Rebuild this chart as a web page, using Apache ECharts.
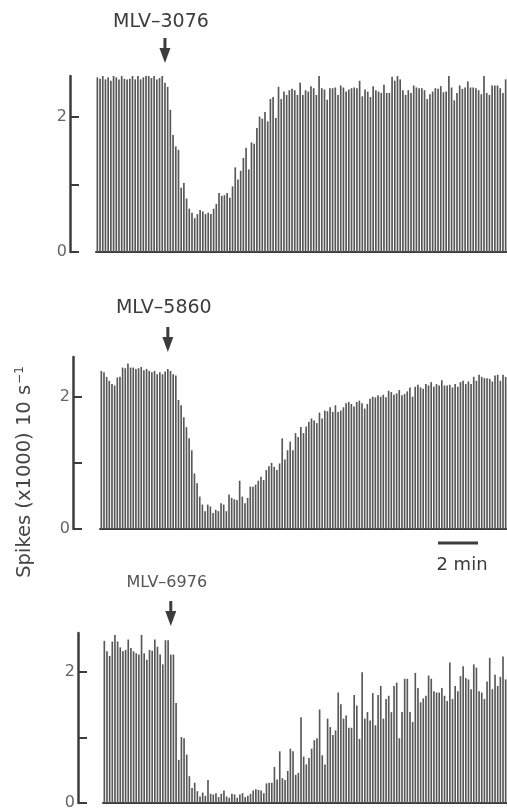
<!DOCTYPE html>
<html>
<head>
<meta charset="utf-8">
<script src="https://cdn.jsdelivr.net/npm/echarts@6/dist/echarts.min.js"></script>
<style>
html,body{margin:0;padding:0;background:#fff;}
#c{width:507px;height:811px;}
</style>
</head>
<body>
<div id="c"></div>
<script>
// Spike counts (x1000 per 10 s bin)
const drugNames = ['MLV\u20133076', 'MLV\u20135860', 'MLV\u20136976'];
const injectionIndex = [25, 25, 25];
const yTickValues = [0, 1, 2];
const yTickLabels = [0, 2];
const scaleBarLabel = '2 min';
const yAxisTitle = 'Spikes (x1000) 10 s';

const panel1 = [
  2.58,2.56,2.65,2.55,2.58,2.53,2.62,2.58,2.55,2.62,2.56,2.55,2.56,2.62,2.55,2.6,2.55,2.58,2.6,2.63,2.57,2.6,2.55,2.57,2.61,
  2.5,2.44,2.1,1.73,1.56,1.51,0.95,1.02,0.79,0.64,0.58,0.5,0.56,0.62,0.6,0.56,0.58,0.56,0.64,0.71,0.87,0.83,0.84,0.87,0.8,
  0.97,1.25,1.07,1.2,1.39,1.54,1.22,1.62,1.6,1.83,2.0,1.97,2.07,1.93,2.26,2.29,1.98,2.44,2.26,
  2.37,2.32,2.39,2.41,2.39,2.32,2.5,2.32,2.39,2.37,2.45,2.42,2.32,2.6,2.42,2.4,2.25,2.42,2.42,2.43,
  2.32,2.46,2.43,2.37,2.4,2.42,2.43,2.42,2.53,2.3,2.4,2.37,2.29,2.45,2.39,2.37,2.35,2.47,2.35,2.35,
  2.59,2.53,2.64,2.55,2.39,2.32,2.39,2.35,2.46,2.43,2.42,2.42,2.39,2.26,2.33,2.37,2.42,2.41,2.45,2.36,
  2.37,2.67,2.43,2.24,2.35,2.46,2.41,2.43,2.52,2.43,2.43,2.42,2.39,2.33,2.61,2.35,2.32,2.46,2.46,2.46,
  2.42,2.35,2.55
];
const panel2 = [
  2.39,2.37,2.3,2.24,2.19,2.17,2.29,2.3,2.44,2.43,2.5,2.44,2.44,2.42,2.43,2.45,2.4,2.42,2.39,2.37,
  2.39,2.34,2.37,2.34,2.38,2.42,2.39,2.34,2.32,
  1.95,1.87,1.69,1.54,1.37,1.19,0.84,0.69,0.49,0.37,
  0.27,0.37,0.34,0.24,0.29,0.27,0.39,0.37,0.27,0.52,
  0.47,0.45,0.44,0.73,0.49,0.39,0.47,0.64,0.64,0.67,
  0.73,0.79,0.74,0.89,0.95,1.0,0.94,0.89,0.99,1.37,
  1.05,1.19,1.32,1.19,1.45,1.39,1.54,1.45,1.55,1.62,
  1.67,1.64,1.6,1.76,1.67,1.79,1.78,1.84,1.77,1.87,
  1.77,1.79,1.84,1.9,1.92,1.89,1.85,1.92,1.94,1.9,
  1.82,1.89,1.97,2.0,1.99,2.02,2.0,2.03,1.99,2.09,
  2.07,2.03,2.05,2.1,2.02,2.04,2.08,2.14,2.0,2.15,
  2.18,2.14,2.12,2.19,2.17,2.22,2.15,2.19,2.17,2.25,
  2.17,2.17,2.18,2.14,2.19,2.15,2.22,2.24,2.19,2.23,
  2.19,2.3,2.24,2.33,2.3,2.28,2.28,2.27,2.23,2.32,
  2.33,2.24,2.33,2.3
];
const panel3 = [
  2.48,2.32,2.25,2.47,2.57,2.47,2.38,2.32,2.34,2.5,2.37,2.32,2.29,2.27,2.57,2.29,2.19,2.34,2.33,2.5,
  2.39,2.27,2.12,2.49,2.49,2.27,2.27,
  1.53,0.66,1.01,0.99,0.74,0.41,0.23,0.31,0.18,0.1,
  0.16,0.11,0.35,0.14,0.13,0.15,0.09,0.14,0.19,0.1,
  0.08,0.14,0.13,0.08,0.13,0.15,0.09,0.11,0.14,0.19,
  0.21,0.2,0.19,0.15,0.3,0.31,0.31,0.55,0.36,0.79,
  0.38,0.35,0.49,0.83,0.79,0.43,0.46,1.31,0.71,0.59,
  0.69,0.83,0.96,0.99,1.43,0.73,0.59,1.29,1.16,1.04,
  1.11,1.69,1.51,1.29,1.34,1.15,1.15,1.65,1.49,0.98,
  2.0,1.29,1.39,1.26,1.68,1.19,1.65,1.79,1.29,1.59,
  1.64,1.39,1.79,1.84,0.99,1.39,1.9,1.9,1.39,1.24,
  1.99,1.76,1.54,1.6,1.64,1.95,1.9,1.71,1.69,1.69,
  1.76,1.64,1.56,2.15,1.59,1.79,1.71,1.94,2.09,1.91,
  1.89,1.74,2.12,2.07,1.71,1.69,1.59,1.86,2.22,1.74,
  1.96,1.79,1.93,2.24,1.89
];

const panels = [panel1, panel2, panel3];
const layout = [
  {top: 76, height: 176, left: 96, axisX: 70, arrowGap: 38, textGap: 16},
  {top: 357, height: 172, left: 100, axisX: 73, arrowGap: 30, textGap: 19},
  {top: 633, height: 173, left: 103, axisX: 78, arrowGap: 32, textGap: 18}
];
const ink = '#3c3c3c';
const font = '"DejaVu Sans", Verdana, sans-serif';

const chart = echarts.init(document.getElementById('c'));
const grids = [], xAxes = [], yAxes = [], series = [];
panels.forEach((vals, k) => {
  const L = layout[k];
  grids.push({left: L.left, right: 0, top: L.top, height: L.height});
  xAxes.push({
    gridIndex: k, type: 'category', data: vals.map((v, i) => i), boundaryGap: true,
    axisLine: {show: true, lineStyle: {color: ink, width: 2}},
    axisTick: {show: false}, axisLabel: {show: false}, splitLine: {show: false}
  });
  yAxes.push({
    gridIndex: k, type: 'value', min: 0, max: 2.6, offset: L.left - L.axisX,
    axisLine: {show: true, lineStyle: {color: ink, width: 2.5}},
    axisTick: {show: true, inside: true, length: 9, customValues: yTickValues, lineStyle: {color: ink, width: 2}},
    axisLabel: {customValues: yTickLabels, color: '#666', fontSize: 16, fontFamily: font, margin: 3},
    splitLine: {show: false}
  });
  series.push({
    type: 'bar', xAxisIndex: k, yAxisIndex: k, data: vals, barWidth: '62%',
    itemStyle: {color: '#575757'}, silent: true, animation: false
  });
});

chart.setOption({
  animation: false,
  grid: grids, xAxis: xAxes, yAxis: yAxes, series: series
});

const graphics = [];
panels.forEach((vals, k) => {
  const L = layout[k];
  const x = chart.convertToPixel({xAxisIndex: k}, injectionIndex[k]);
  const y0 = L.top - L.arrowGap;
  graphics.push({type: 'rect', shape: {x: x - 1.5, y: y0, width: 3, height: 13}, style: {fill: ink}});
  graphics.push({type: 'polygon', shape: {points: [[x - 5.5, y0 + 10], [x + 5.5, y0 + 10], [x, y0 + 25]]}, style: {fill: ink}});
  graphics.push({
    type: 'text', x: x - 4, y: y0 - L.textGap,
    style: {text: drugNames[k], font: (k === 2 ? '16px ' : '19px ') + font, fill: k === 2 ? '#555' : ink, align: 'center', verticalAlign: 'middle', letterSpacing: k === 2 ? 1.2 : 0}
  });
});
// y-axis title
graphics.push({
  type: 'text', x: 25, y: 472, rotation: Math.PI / 2,
  style: {
    text: '{a|' + yAxisTitle + '}{b|\u22121}',
    align: 'center', verticalAlign: 'middle',
    rich: {
      a: {font: '19.5px ' + font, fill: '#444', lineHeight: 22},
      b: {font: '12px ' + font, fill: '#444', lineHeight: 22, verticalAlign: 'top', padding: [0, 0, 10, 1]}
    }
  }
});
// scale bar
graphics.push({type: 'rect', shape: {x: 438, y: 541.5, width: 40, height: 3}, style: {fill: ink}});
graphics.push({type: 'text', x: 462, y: 565, style: {text: scaleBarLabel, font: '18px ' + font, fill: ink, align: 'center', verticalAlign: 'middle'}});

chart.setOption({graphic: graphics});
</script>
</body>
</html>
